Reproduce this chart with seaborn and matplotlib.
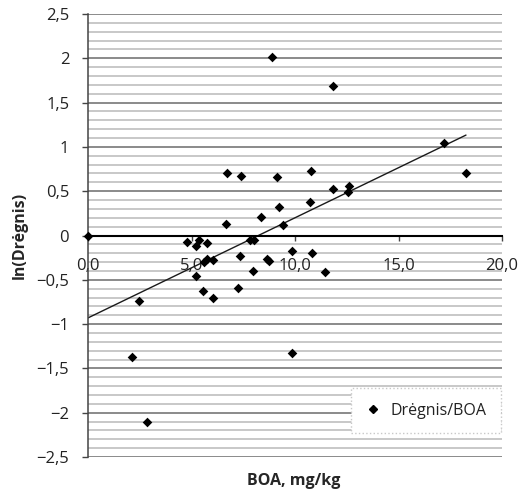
import numpy as np
import pandas as pd
import seaborn as sns
import matplotlib
matplotlib.use("Agg")
import matplotlib.pyplot as plt
from matplotlib.lines import Line2D

# duomenys nuskaityti nuo paveikslo
boa = [0.0, 2.14, 2.45, 2.83, 4.77, 5.22, 5.38, 5.77, 5.2, 5.54, 5.6, 5.74, 6.02, 6.04,
       6.66, 6.7, 7.26, 7.34, 7.38, 7.83, 8.03, 7.95, 8.34, 8.63, 8.74, 8.9, 9.15,
       9.22, 9.4, 9.87, 9.87, 10.72, 10.77, 10.84, 11.45, 11.82, 11.82, 12.62, 12.58,
       17.21, 18.26]
ln_dregnis = [0.0, -1.37, -0.74, -2.10, -0.07, -0.12, -0.05, -0.08, -0.46, -0.63, -0.30,
              -0.26, -0.28, -0.70, 0.13, 0.70, -0.59, -0.23, 0.67, -0.05, -0.05, -0.40,
              0.21, -0.27, -0.29, 2.02, 0.665, 0.32, 0.12, -0.17, -1.33, 0.375, 0.73,
              -0.20, -0.41, 1.69, 0.52, 0.56, 0.49, 1.04, 0.71]

# tiesine tendencija (nuskaityta nuo paveikslo)
trend_intercept = -0.93
trend_slope = 0.113

x_ticks = [5, 10, 15, 20]
x_labels = ["5,0", "10,0", "15,0", "20,0"]
y_ticks = [2.5, 2, 1.5, 1, 0.5, 0, -0.5, -1, -1.5, -2, -2.5]
y_labels = ["2,5", "2", "1,5", "1", "0,5", "0", "−0,5", "−1", "−1,5", "−2", "−2,5"]

tabela = pd.DataFrame({"BOA": boa, "lnD": ln_dregnis})

sns.set_style("white")
plt.rcParams["font.family"] = ["Open Sans", "DejaVu Sans"]
plt.rcParams["font.size"] = 12
plt.rcParams["text.color"] = "#222222"

fig = plt.figure(figsize=(5.28, 4.95), dpi=100)
ax = fig.add_axes([88 / 528, 1 - 457 / 495, 414 / 528, 443 / 495])

# horizontalios tinklelio linijos kas 0,1
for v in np.round(np.arange(-2.5, 2.51, 0.1), 2):
    if abs(v) < 1e-9:
        continue
    major = abs(round(v * 2) - v * 2) < 1e-6
    ax.axhline(v, color="#8a8a8a" if major else "#b9b9b9",
               lw=1.4 if major else 1.1, zorder=0)

xs = np.array([0, max(boa)])
ax.plot(xs, trend_intercept + trend_slope * xs, color="#1a1a1a", lw=1.0, zorder=2)

sns.scatterplot(data=tabela, x="BOA", y="lnD", marker="D", color="black", s=24,
                linewidth=0, ax=ax, zorder=3, clip_on=False, legend=False)

ax.set_xlim(0, 20)
ax.set_ylim(-2.5, 2.5)

ax.spines["top"].set_visible(False)
ax.spines["right"].set_visible(False)
ax.spines["bottom"].set_position(("data", 0))
ax.spines["bottom"].set_color("black")
ax.spines["bottom"].set_linewidth(1.5)
ax.spines["left"].set_color("#444444")
ax.spines["left"].set_linewidth(1.1)

ax.set_xticks([0] + x_ticks)
ax.set_xticklabels(["0,0"] + x_labels)
ax.set_yticks(y_ticks)
ax.set_yticklabels(y_labels)
ax.tick_params(axis="x", direction="out", length=3.5, width=1, color="#444444",
               pad=13, labelsize=12, labelcolor="#222222", bottom=True)
ax.tick_params(axis="y", direction="out", length=4.5, width=1, color="#444444",
               pad=9, labelsize=12, labelcolor="#222222", left=True)
ax.grid(False)

ax.set_xlabel("BOA, mg/kg", fontsize=11.5, fontweight="bold")
ax.set_ylabel("ln(Drėgnis)", fontsize=11.5, fontweight="bold")
ax.xaxis.set_label_coords(0.497, -0.035)
ax.yaxis.set_label_coords(-0.164, 0.5)
ax.yaxis.label.set_verticalalignment("center")

handle = Line2D([], [], marker="D", color="black", linestyle="none", markersize=4.5)
leg = ax.legend([handle], ["Drėgnis/BOA"], loc="lower right",
                bbox_to_anchor=(0.998, 0.054), frameon=True, fancybox=False,
                fontsize=11.5, borderpad=0.9, handletextpad=0.6, handlelength=1.0,
                borderaxespad=0)
leg.get_frame().set_edgecolor("#c8c8c8")
leg.get_frame().set_linestyle(":")
leg.get_frame().set_facecolor("white")
leg.get_frame().set_alpha(1)

fig.savefig("out.png", dpi=100)
